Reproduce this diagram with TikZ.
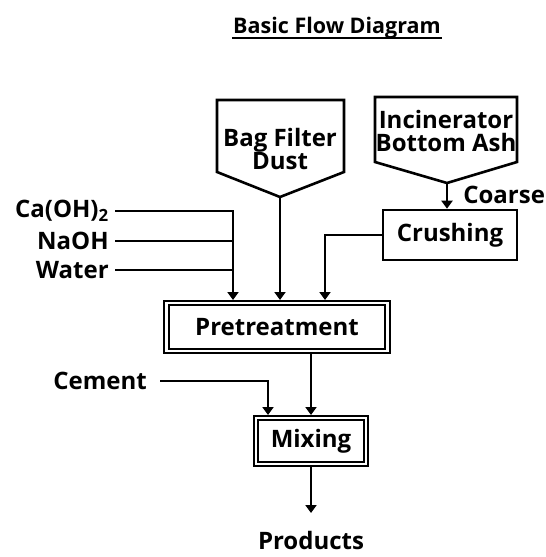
\documentclass[tikz,border=0pt]{standalone}
\usepackage{fontspec}
\setmainfont{Open Sans}
\usetikzlibrary{arrows.meta, positioning, calc}

\begin{document}
\begin{tikzpicture}[x=1pt, y=-1pt, >={Triangle[width=11pt,length=8pt]}, line width=2.6pt,
    font=\fontsize{24}{23}\selectfont\bfseries,
    box/.style={draw, minimum width=#1, minimum height=50pt, inner sep=0pt},
    dbox/.style={draw, double, double distance=2.4pt, line width=1.9pt, outer sep=3pt, inner sep=0pt},
    feed/.style={anchor=east, inner xsep=5pt, inner ysep=0pt}]
    \useasboundingbox (0,0) rectangle (546,557);

    % title
    \node[anchor=base, inner xsep=0pt, font=\fontsize{21.5}{23}\selectfont\bfseries] (title) at (337,33) {Basic Flow Diagram};
    \draw ([yshift=-5pt]title.base west) -- ([yshift=-5pt]title.base east);

    % hoppers
    \draw (217,100) -- (344,100) -- (344,172) -- (280,197) coordinate (bagtip) -- (217,172) -- cycle;
    \node[align=center] (bag) at (280,149) {Bag Filter\\Dust};

    \draw (375,97) -- (517,97) -- (517,162) -- (447,183) coordinate (inctip) -- (375,162) -- cycle;
    \node[align=center] (inc) at (446,131) {Incinerator\\Bottom Ash};

    \node[box=134pt] (crush) at (450,235) {Crushing};
    \node[anchor=west, inner sep=0pt] (coarse) at (462,195) {Coarse};
    \draw[->] (inctip) -- (inctip |- crush.north);

    % process steps
    \node[dbox, minimum width=221pt, minimum height=48pt] (pre) at (277,327) {Pretreatment};
    \node[dbox, minimum width=110pt, minimum height=46pt] (mix) at (311,441) {Mixing};

    % feeds into pretreatment
    \node[feed] (caoh) at (115,211) {Ca(OH)\textsubscript{2}};
    \node[feed] (naoh) at (115,241) {NaOH};
    \node[feed] (water) at (115,270) {Water};
    \coordinate (join) at ([xshift=-44pt]pre.north);

    \draw[->] (caoh.east) -| (join);
    \draw (naoh.east) -- (naoh.east -| join);
    \draw (water.east) -- (water.east -| join);
    \draw[->] (bagtip) -- (bagtip |- pre.north);
    \draw[->] (crush.west) -| ([xshift=48pt]pre.north);

    % mixing
    \node[feed, inner xsep=12pt] (cement) at (160,381) {Cement};
    \draw[->] (pre.south -| mix.north) -- (mix.north);
    \draw[->] (cement.east) -| ([xshift=-43pt]mix.north);

    \node[inner sep=0pt, anchor=north] (prod) at (311,530) {Products};
    \draw[->] (mix.south) -- ([yshift=17pt]prod.north);
\end{tikzpicture}
\end{document}
